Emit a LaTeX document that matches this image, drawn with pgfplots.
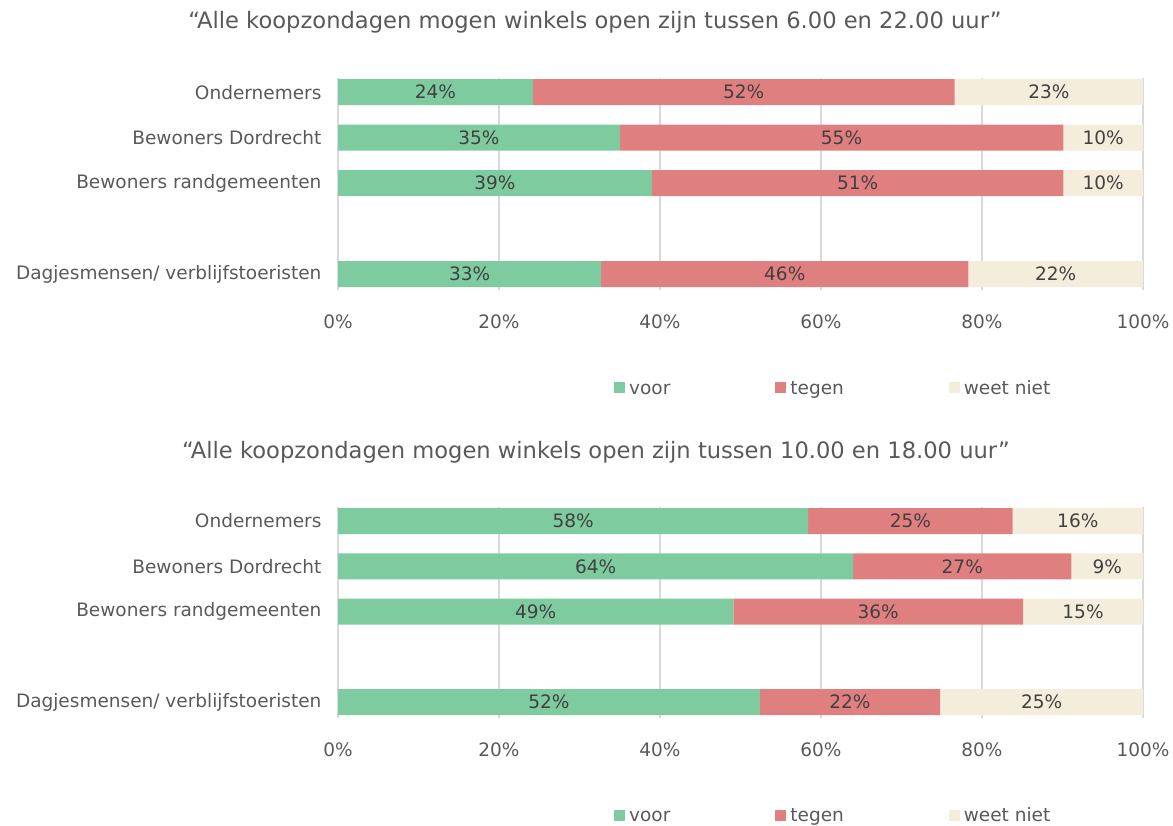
\documentclass[border=0pt]{standalone}
\usepackage{pgfplots}
\pgfplotsset{compat=1.18}
\usepackage{pgfplotstable}
\usepackage{fontspec}
\setmainfont{DejaVu Sans}

\definecolor{cvoor}{HTML}{7FCBA0}
\definecolor{ctegen}{HTML}{E07F7F}
\definecolor{cweet}{HTML}{F5EDDC}
\definecolor{ctxt}{HTML}{595959}
\definecolor{cval}{HTML}{404040}
\definecolor{cgrid}{HTML}{D9D9D9}

% 6.00 - 22.00 uur
\pgfplotstableread{
y voor tegen weet
4 24.2 52.4 23.4
3 35.0 55.1 9.9
2 39.0 51.1 9.9
0 32.7 45.6 21.7
}\tablezes

% 10.00 - 18.00 uur
\pgfplotstableread{
y voor tegen weet
4 58.4 25.4 16.2
3 64.0 27.1 8.9
2 49.1 36.0 14.9
0 52.4 22.4 25.2
}\tabletien

\pgfplotsset{
  koop/.style={
    xbar stacked, bar width=13pt,
    scale only axis, width=402.5pt, height=106pt,
    xmin=0, xmax=100, ymin=-0.35, ymax=4.31,
    xtick={0,20,...,100},
    xticklabel={\pgfmathprintnumber{\tick}\%},
    /pgf/number format/assume math mode=true,
    ytick={0,2,3,4},
    yticklabels={Dagjesmensen/ verblijfstoeristen,Bewoners randgemeenten,Bewoners Dordrecht,Ondernemers},
    xmajorgrids, major grid style={cgrid, line width=1pt},
    axis line style={draw=none}, major tick length=0pt,
    tick label style={text=ctxt},
    xticklabel style={yshift=-9pt},
    yticklabel style={xshift=-5pt},
    legend columns=3,
    legend style={draw=none, fill=none, text=ctxt, at={(0.6165,-0.462)}, anchor=center,
      nodes={text height=1.5ex, text depth=0.3ex},
      /tikz/every even column/.append style={column sep=50.5pt}},
    legend image code/.code={\fill[#1, draw=none] (0pt,-2.75pt) rectangle (5.5pt,2.75pt);},
  },
  seg/.style={forget plot, draw=none, point meta=explicit,
    nodes near coords={\pgfmathprintnumber[fixed,precision=0]{\pgfplotspointmeta}\%},
    every node near coord/.append style={anchor=center, text=cval}},
}

\begin{document}
\fontsize{9.25pt}{11pt}\selectfont
\begin{tikzpicture}
\useasboundingbox (0pt,0pt) rectangle (586.5pt,-412.5pt);

\node[text=ctxt, font=\fontsize{11.3pt}{13pt}\selectfont] at (297.5pt,-11pt) {“Alle koopzondagen mogen winkels open zijn tussen 6.00 en 22.00 uur”};
\begin{axis}[koop, at={(169pt,-39pt)}, anchor=north west]
\addplot[fill=cvoor, seg] table[x=voor, y=y, meta=voor] {\tablezes};
\addplot[fill=ctegen, seg] table[x=tegen, y=y, meta=tegen] {\tablezes};
\addplot[fill=cweet, seg] table[x=weet, y=y, meta=weet] {\tablezes};
\addlegendimage{fill=cvoor}
\addlegendimage{fill=ctegen}
\addlegendimage{fill=cweet}
\legend{voor,tegen,weet niet}
\end{axis}

\node[text=ctxt, font=\fontsize{11.3pt}{13pt}\selectfont] at (298pt,-226pt) {“Alle koopzondagen mogen winkels open zijn tussen 10.00 en 18.00 uur”};
\begin{axis}[koop, at={(169pt,-253.5pt)}, anchor=north west, height=105.5pt]
\addplot[fill=cvoor, seg] table[x=voor, y=y, meta=voor] {\tabletien};
\addplot[fill=ctegen, seg] table[x=tegen, y=y, meta=tegen] {\tabletien};
\addplot[fill=cweet, seg] table[x=weet, y=y, meta=weet] {\tabletien};
\addlegendimage{fill=cvoor}
\addlegendimage{fill=ctegen}
\addlegendimage{fill=cweet}
\legend{voor,tegen,weet niet}
\end{axis}
\end{tikzpicture}
\end{document}
